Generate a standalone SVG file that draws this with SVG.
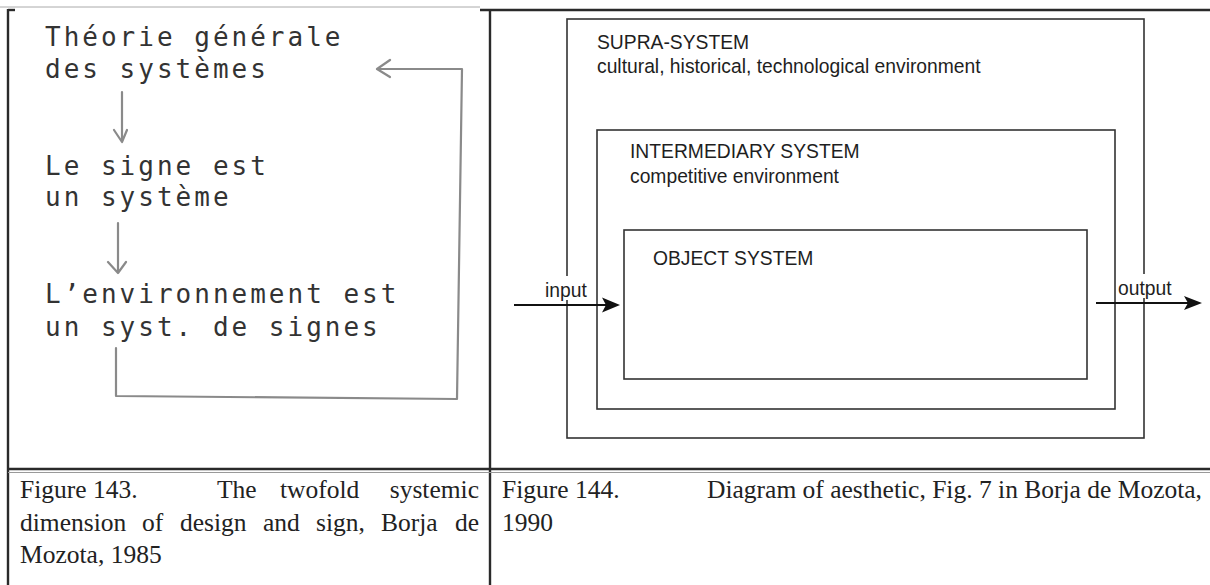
<svg xmlns="http://www.w3.org/2000/svg" width="1210" height="585" viewBox="0 0 1210 585">
<style>
.hand{font-family:"DejaVu Sans Mono","Liberation Mono",monospace;font-size:26px;letter-spacing:3px;fill:#333}
.sys{font-family:"Liberation Sans",Arial,sans-serif;font-size:19.3px;fill:#1e1e1e}
.cap{font-family:"Liberation Serif","Times New Roman",serif;font-size:25.5px;fill:#222}
.box{fill:none;stroke:#333;stroke-width:1.6}
.pen{fill:none;stroke:#8a8a8a;stroke-width:2.2;stroke-linecap:round;stroke-linejoin:round}
.arr{stroke:#111;stroke-width:2.2;fill:none}
.grid{stroke:#2a2a2a;stroke-width:2.4;fill:none}
</style>
<rect width="1210" height="585" fill="#fff"/>
<g id="table">
<line x1="0" y1="7" x2="480" y2="7" stroke="#aaa" stroke-width="1"/>
<line x1="480" y1="10" x2="1210" y2="10" class="grid"/>
<line x1="8" y1="10" x2="15" y2="10" class="grid"/>
<line x1="8" y1="9" x2="8" y2="585" class="grid"/>
<line x1="490" y1="10" x2="490" y2="585" class="grid"/>
<line x1="8" y1="469" x2="1210" y2="469" class="grid"/>
<line x1="8" y1="472.5" x2="1210" y2="472.5" stroke="#999" stroke-width="1"/>
</g>
<g id="left-figure">
<g id="n-theorie"><text class="hand" x="45" y="46">Théorie générale</text><text class="hand" x="45" y="78">des systèmes</text></g>
<g id="n-signe"><text class="hand" x="45" y="175">Le signe est</text><text class="hand" x="45" y="206">un système</text></g>
<g id="n-env"><text class="hand" x="45" y="303">L’environnement est</text><text class="hand" x="45" y="336">un syst. de signes</text></g>
<g id="left-connectors">
<path class="pen" d="M122,92 L122,142 M114,130 L122,142 L127,130"/>
<path class="pen" d="M118,223 L118,272 M108,262 L118,273 L126,262"/>
<path class="pen" d="M116,348 L116,396 L457,399 L462,69 L377,69 M390,60 L377,69 L390,77"/>
</g>
</g>
<g id="right-figure">
<g id="n-supra"><rect class="box" x="567" y="19" width="577" height="419"/><text class="sys" x="597" y="49">SUPRA-SYSTEM</text><text class="sys" x="597" y="73">cultural, historical, technological environment</text></g>
<g id="n-inter"><rect class="box" x="597" y="130" width="518" height="279"/><text class="sys" x="630" y="158">INTERMEDIARY SYSTEM</text><text class="sys" x="630" y="183">competitive environment</text></g>
<g id="n-object"><rect class="box" x="624" y="230" width="463" height="149"/><text class="sys" x="653" y="265">OBJECT SYSTEM</text></g>
<g id="right-connectors">
<rect x="543" y="276" width="46" height="24" fill="#fff"/>
<text class="sys" x="545" y="297">input</text>
<line class="arr" x1="514" y1="305" x2="608" y2="305"/>
<path d="M620,305 L602,297.5 L606,305 L602,312.5 Z" fill="#111"/>
<rect x="1117" y="274" width="58" height="24" fill="#fff"/>
<text class="sys" x="1118" y="295">output</text>
<line class="arr" x1="1096" y1="303" x2="1190" y2="303"/>
<path d="M1202,303 L1184,296 L1188,303 L1184,310 Z" fill="#111"/>
</g>
</g>
<g id="captions">
<text class="cap" y="498"><tspan x="20">Figure 143.</tspan><tspan x="217">The</tspan><tspan x="280">twofold</tspan></text>
<text class="cap" x="479" y="498" text-anchor="end">systemic</text>
<text class="cap" y="531"><tspan x="20">dimension</tspan><tspan x="142">of</tspan><tspan x="180">design</tspan><tspan x="263">and</tspan><tspan x="316">sign,</tspan><tspan x="381">Borja</tspan></text>
<text class="cap" x="479" y="531" text-anchor="end">de</text>
<text class="cap" x="20" y="563">Mozota, 1985</text>
<text class="cap" x="502" y="498">Figure 144.</text>
<text class="cap" x="1202" y="498" text-anchor="end">Diagram of aesthetic, Fig. 7 in Borja de Mozota,</text>
<text class="cap" x="502" y="531">1990</text>
</g>
</svg>
